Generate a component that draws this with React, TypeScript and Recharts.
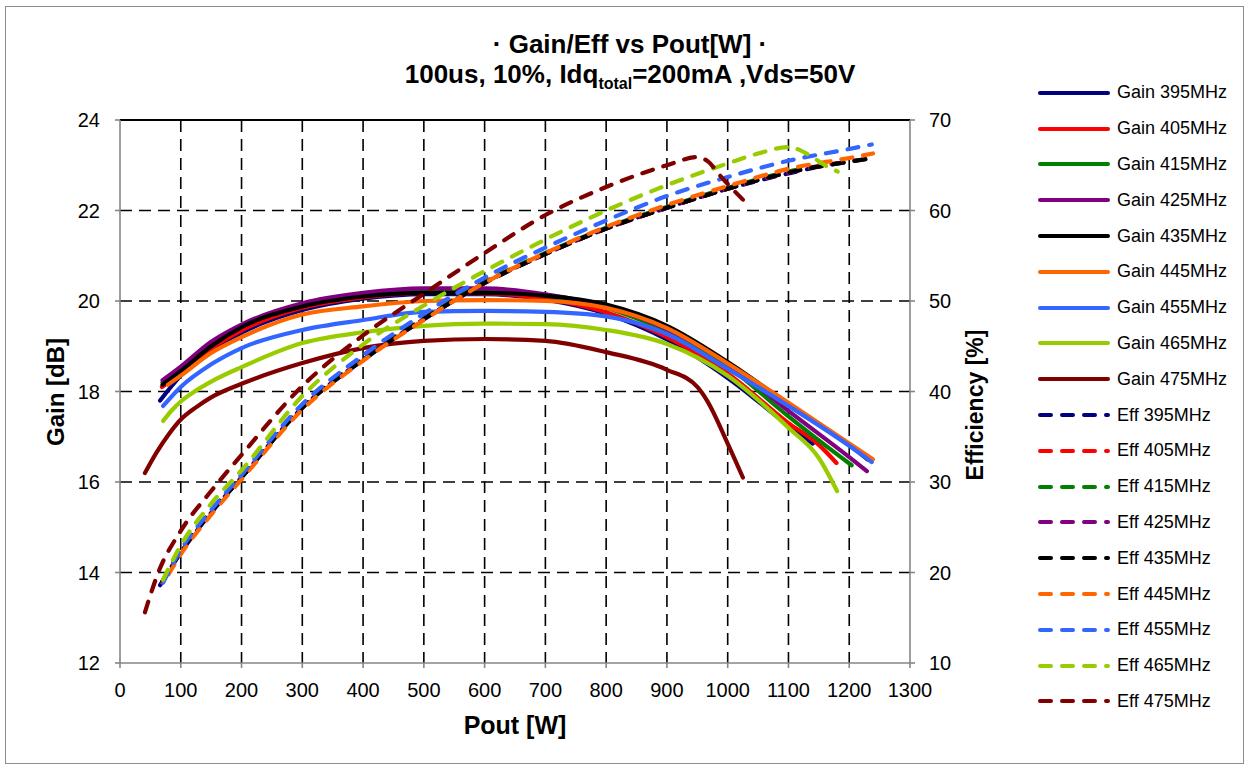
import React from "react";
import { LineChart, Line, XAxis, YAxis, CartesianGrid, ReferenceLine } from "recharts";

const FONT = "'Liberation Sans', Arial, Helvetica, sans-serif";

// x axis / tick labels
const poutTicks = [0, 100, 200, 300, 400, 500, 600, 700, 800, 900, 1000, 1100, 1200, 1300];
const gainTicks = [12, 14, 16, 18, 20, 22, 24];
const effTicks = [10, 20, 30, 40, 50, 60, 70];
const freqs = ["395", "405", "415", "425", "435", "445", "455", "465", "475"];
const colors = ["#000080", "#ff0000", "#008000", "#800080", "#000000", "#ff6600", "#3366ff", "#99cc00", "#800000"];

// Gain [dB] vs Pout [W]
const poutG395 = [66, 100, 150, 200, 300, 400, 500, 600, 700, 800, 900, 1000, 1100, 1140];
const gain395 = [17.8, 18.35, 18.9, 19.3, 19.8, 20.05, 20.15, 20.15, 20.03, 19.72, 19.15, 18.3, 17.25, 16.85];
const poutG405 = [69, 100, 150, 200, 300, 400, 500, 600, 700, 800, 900, 1000, 1100, 1150, 1179];
const gain405 = [18.1, 18.4, 18.95, 19.35, 19.85, 20.08, 20.18, 20.17, 20.05, 19.75, 19.2, 18.4, 17.3, 16.82, 16.42];
const poutG415 = [70, 100, 150, 200, 300, 400, 500, 600, 700, 800, 900, 1000, 1100, 1150, 1204];
const gain415 = [18.2, 18.5, 19.05, 19.45, 19.92, 20.15, 20.25, 20.25, 20.12, 19.85, 19.32, 18.55, 17.45, 16.92, 16.37];
const poutG425 = [70, 100, 150, 200, 300, 400, 500, 600, 700, 800, 900, 1000, 1100, 1200, 1229];
const gain425 = [18.25, 18.55, 19.1, 19.48, 19.95, 20.18, 20.28, 20.28, 20.15, 19.88, 19.38, 18.62, 17.57, 16.55, 16.24];
const poutG435 = [70, 100, 150, 200, 300, 400, 500, 600, 700, 800, 900, 1000, 1100, 1200, 1230];
const gain435 = [18.15, 18.45, 19.0, 19.42, 19.88, 20.1, 20.18, 20.18, 20.12, 19.92, 19.45, 18.65, 17.72, 16.82, 16.5];
const poutG445 = [79, 100, 150, 200, 300, 400, 500, 600, 700, 800, 900, 1000, 1100, 1200, 1239];
const gain445 = [18.15, 18.35, 18.85, 19.2, 19.7, 19.88, 20.0, 20.02, 20.0, 19.85, 19.4, 18.62, 17.75, 16.85, 16.5];
const poutG455 = [71, 100, 150, 200, 300, 400, 500, 600, 700, 800, 900, 1000, 1100, 1200, 1237];
const gain455 = [17.68, 18.1, 18.6, 18.96, 19.36, 19.58, 19.76, 19.78, 19.76, 19.66, 19.27, 18.5, 17.68, 16.8, 16.44];
const poutG465 = [71, 85, 100, 125, 150, 200, 300, 400, 500, 600, 700, 800, 900, 1000, 1100, 1150, 1180];
const gain465 = [17.35, 17.58, 17.78, 18.02, 18.22, 18.54, 19.07, 19.31, 19.45, 19.5, 19.49, 19.36, 19.05, 18.35, 17.2, 16.53, 15.8];
const poutG475 = [41, 60, 80, 100, 125, 150, 200, 300, 400, 500, 600, 700, 800, 900, 950, 966, 1000, 1025];
const gain475 = [16.2, 16.65, 17.05, 17.38, 17.65, 17.87, 18.17, 18.63, 18.96, 19.12, 19.16, 19.12, 18.87, 18.48, 18.1, 17.8, 16.85, 16.1];

// Efficiency [%] vs Pout [W]
const poutE395 = [66, 100, 150, 200, 300, 400, 500, 600, 700, 800, 900, 1000, 1100, 1140];
const eff395 = [18.6, 22.2, 26.6, 30.5, 38.2, 43.5, 48.0, 52.0, 55.2, 58.0, 60.3, 62.4, 64.1, 64.7];
const poutE405 = [69, 100, 150, 200, 300, 400, 500, 600, 700, 800, 900, 1000, 1100, 1150, 1179];
const eff405 = [18.9, 22.3, 26.7, 30.6, 38.3, 43.6, 48.0, 52.0, 55.2, 58.0, 60.3, 62.4, 64.2, 64.9, 65.2];
const poutE415 = [70, 100, 150, 200, 300, 400, 500, 600, 700, 800, 900, 1000, 1100, 1200, 1204];
const eff415 = [19.0, 22.4, 26.8, 30.6, 38.3, 43.6, 48.1, 52.1, 55.3, 58.1, 60.4, 62.5, 64.3, 65.4, 65.45];
const poutE425 = [70, 100, 150, 200, 300, 400, 500, 600, 700, 800, 900, 1000, 1100, 1200, 1229];
const eff425 = [19.0, 22.4, 26.8, 30.6, 38.3, 43.6, 48.0, 52.0, 55.2, 58.0, 60.3, 62.4, 64.2, 65.4, 65.7];
const poutE435 = [70, 100, 150, 200, 300, 400, 500, 600, 700, 800, 900, 1000, 1100, 1200, 1230];
const eff435 = [19.0, 22.3, 26.7, 30.5, 38.2, 43.5, 48.0, 52.0, 55.2, 58.0, 60.3, 62.4, 64.2, 65.4, 65.7];
const poutE445 = [80, 100, 150, 200, 300, 400, 500, 600, 700, 800, 900, 1000, 1100, 1200, 1239];
const eff445 = [19.8, 22.0, 26.4, 30.3, 38.0, 43.4, 47.9, 52.0, 55.3, 58.2, 60.6, 62.7, 64.6, 65.8, 66.3];
const poutE455 = [71, 100, 150, 200, 300, 400, 500, 600, 700, 800, 900, 1000, 1100, 1200, 1237];
const eff455 = [18.9, 22.5, 26.9, 30.8, 38.6, 44.0, 48.6, 52.6, 55.9, 58.9, 61.6, 63.7, 65.5, 66.8, 67.3];
const poutE465 = [71, 100, 150, 200, 300, 400, 500, 600, 700, 800, 900, 1000, 1050, 1100, 1135, 1160, 1181];
const eff465 = [19.2, 23.0, 27.6, 31.3, 39.5, 45.2, 49.5, 53.3, 56.8, 60.0, 62.8, 65.2, 66.3, 67.0, 66.1, 65.0, 64.3];
const poutE475 = [41, 63, 100, 150, 200, 300, 400, 500, 600, 700, 800, 900, 950, 968, 987, 1009, 1025];
const eff475 = [15.6, 20.0, 24.6, 29.0, 33.0, 40.6, 46.2, 50.8, 55.3, 59.5, 62.6, 65.0, 65.9, 65.4, 63.9, 62.3, 61.2];

const pts = (xs: number[], ys: number[]) => xs.map((x, i) => ({ x, y: ys[i] }));

const gainData = [
  pts(poutG395, gain395), pts(poutG405, gain405), pts(poutG415, gain415),
  pts(poutG425, gain425), pts(poutG435, gain435), pts(poutG445, gain445),
  pts(poutG455, gain455), pts(poutG465, gain465), pts(poutG475, gain475),
];
const effData = [
  pts(poutE395, eff395), pts(poutE405, eff405), pts(poutE415, eff415),
  pts(poutE425, eff425), pts(poutE435, eff435), pts(poutE445, eff445),
  pts(poutE455, eff455), pts(poutE465, eff465), pts(poutE475, eff475),
];

const AXIS = "#868686";
const DASH = "11 11";

function LegendBox() {
  const rows = [
    ...freqs.map((f, i) => ({ name: `Gain ${f}MHz`, color: colors[i], dashed: false })),
    ...freqs.map((f, i) => ({ name: `Eff ${f}MHz`, color: colors[i], dashed: true })),
  ];
  return (
    <div style={{ position: "absolute", left: 1036, top: 75, fontFamily: FONT, fontSize: 18 }}>
      {rows.map((r) => (
        <div key={r.name} style={{ height: 35.8, display: "flex", alignItems: "center" }}>
          <svg width={78} height={10} style={{ display: "block" }}>
            <line
              x1={4} y1={5} x2={72} y2={5}
              stroke={r.color} strokeWidth={4} strokeLinecap="round"
              strokeDasharray={r.dashed ? DASH : undefined}
            />
          </svg>
          <span style={{ marginLeft: 3 }}>{r.name}</span>
        </div>
      ))}
    </div>
  );
}

export default function App() {
  return (
    <div style={{ position: "absolute", left: 0, top: 0, width: 1249, height: 769, background: "#fff", fontFamily: FONT }}>
      <div style={{ position: "absolute", left: 5, top: 6, width: 1237, height: 756, border: "1.5px solid #8c8c8c" }} />
      <div style={{ position: "absolute", left: 330, width: 600, top: 29, textAlign: "center", fontWeight: "bold", fontSize: 26, lineHeight: "30px" }}>
        · Gain/Eff vs Pout[W] ·
      </div>
      <div style={{ position: "absolute", left: 230, width: 800, top: 59, textAlign: "center", fontWeight: "bold", fontSize: 26, lineHeight: "30px" }}>
        100us, 10%, Idq<sub style={{ fontSize: 16 }}>total</sub>=200mA ,Vds=50V
      </div>
      <LineChart width={1249} height={769} margin={{ top: 120, right: 279, bottom: 76, left: 60 }}>
        <CartesianGrid
          yAxisId="left"
          stroke="#000"
          strokeWidth={1.6}
          strokeDasharray="12 7"
          verticalValues={[100, 200, 300, 400, 500, 600, 700, 800, 900, 1000, 1100, 1200]}
          horizontalValues={[14, 16, 18, 20, 22]}
        />
        <XAxis
          type="number"
          dataKey="x"
          domain={[0, 1300]}
          ticks={poutTicks}
          interval={0}
          allowDataOverflow
          stroke={AXIS}
          strokeWidth={1.6}
          tickSize={5}
          tickMargin={15}
          tick={{ fill: "#000", fontSize: 20, fontFamily: FONT }}
        />
        <YAxis
          yAxisId="left"
          orientation="left"
          width={60}
          domain={[12, 24]}
          ticks={gainTicks}
          interval={0}
          stroke={AXIS}
          strokeWidth={1.6}
          tickSize={5}
          tickMargin={15}
          tick={{ fill: "#000", fontSize: 20, fontFamily: FONT }}
        />
        <YAxis
          yAxisId="right"
          orientation="right"
          width={60}
          domain={[10, 70]}
          ticks={effTicks}
          interval={0}
          stroke={AXIS}
          strokeWidth={1.6}
          tickSize={5}
          tickMargin={14}
          tick={{ fill: "#000", fontSize: 20, fontFamily: FONT }}
        />
        <ReferenceLine yAxisId="left" y={24} stroke="#000" strokeWidth={2} />
        {gainData.map((d, i) => (
          <Line
            key={`g${freqs[i]}`}
            yAxisId="left"
            data={d}
            dataKey="y"
            type="monotone"
            stroke={colors[i]}
            strokeWidth={4.2}
            strokeLinecap="round"
            dot={false}
            activeDot={false}
            isAnimationActive={false}
          />
        ))}
        {effData.map((d, i) => (
          <Line
            key={`e${freqs[i]}`}
            yAxisId="right"
            data={d}
            dataKey="y"
            type="monotone"
            stroke={colors[i]}
            strokeWidth={4.2}
            strokeLinecap="round"
            strokeDasharray={DASH}
            dot={false}
            activeDot={false}
            isAnimationActive={false}
          />
        ))}
      </LineChart>
      <div style={{ position: "absolute", left: 56, top: 392, transform: "translate(-50%, -50%) rotate(-90deg)", whiteSpace: "nowrap", fontWeight: "bold", fontSize: 24 }}>
        Gain [dB]
      </div>
      <div style={{ position: "absolute", left: 975, top: 405, transform: "translate(-50%, -50%) rotate(-90deg)", whiteSpace: "nowrap", fontWeight: "bold", fontSize: 23 }}>
        Efficiency [%]
      </div>
      <div style={{ position: "absolute", left: 515, top: 725, transform: "translate(-50%, -50%)", whiteSpace: "nowrap", fontWeight: "bold", fontSize: 25 }}>
        Pout [W]
      </div>
      <LegendBox />
    </div>
  );
}
